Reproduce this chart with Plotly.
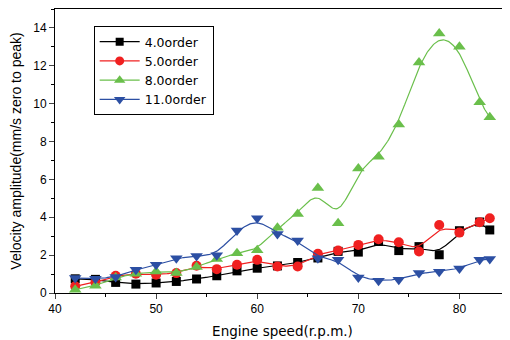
import numpy as np
import plotly.graph_objects as go

speed = [42, 44, 46, 48, 50, 52, 54, 56, 58, 60, 62, 64, 66, 68, 70, 72, 74, 76, 78, 80, 82, 83]
ord4 = [0.75, 0.72, 0.56, 0.47, 0.53, 0.61, 0.74, 0.91, 1.17, 1.31, 1.43, 1.61, 1.85, 2.2, 2.16, 2.72, 2.24, 2.45, 2.02, 3.29, 3.75, 3.33]
ord5 = [0.35, 0.56, 0.91, 1.02, 0.96, 1.05, 1.44, 1.26, 1.49, 1.75, 1.4, 1.4, 2.07, 2.24, 2.54, 2.84, 2.68, 2.19, 3.59, 3.19, 3.74, 3.95]
ord8 = [0.17, 0.38, 0.82, 1.02, 1.14, 1.05, 1.37, 1.79, 2.1, 2.26, 3.45, 4.17, 5.55, 3.68, 6.58, 7.19, 8.9, 12.18, 13.7, 13.0, 10.07, 9.28]
ord11 = [0.79, 0.75, 0.84, 1.23, 1.49, 1.84, 1.96, 2.0, 3.3, 3.95, 3.12, 2.77, 1.84, 1.76, 0.82, 0.65, 0.7, 1.06, 1.12, 1.29, 1.75, 1.79]

series_names = ["4.0order", "5.0order", "8.0order", "11.0order"]
series_vals = [ord4, ord5, ord8, ord11]
colors = ["#000000", "#f02020", "#6abf4b", "#2c4fa3"]
symbols = ["square", "circle", "triangle-up", "triangle-down"]
sizes = [9, 10, 11, 11]


def bspline(xs, ys, steps=20):
    px = np.concatenate([[xs[0]] * 2, xs, [xs[-1]] * 2]).astype(float)
    py = np.concatenate([[ys[0]] * 2, ys, [ys[-1]] * 2]).astype(float)
    t = np.linspace(0, 1, steps, endpoint=False)
    b0 = (1 - t) ** 3 / 6
    b1 = (3 * t ** 3 - 6 * t ** 2 + 4) / 6
    b2 = (-3 * t ** 3 + 3 * t ** 2 + 3 * t + 1) / 6
    b3 = t ** 3 / 6
    ox, oy = [], []
    for i in range(len(px) - 3):
        ox.extend(b0 * px[i] + b1 * px[i + 1] + b2 * px[i + 2] + b3 * px[i + 3])
        oy.extend(b0 * py[i] + b1 * py[i + 1] + b2 * py[i + 2] + b3 * py[i + 3])
    ox.append(px[-1])
    oy.append(py[-1])
    return ox, oy


fig = go.Figure()
for name, vals, c, s, sz in zip(series_names, series_vals, colors, symbols, sizes):
    cx, cy = bspline(speed, vals)
    fig.add_trace(go.Scatter(x=cx, y=cy, mode="lines", line=dict(color=c, width=1.2),
                             showlegend=False, hoverinfo="skip"))
    fig.add_trace(go.Scatter(x=speed, y=vals, mode="markers",
                             marker=dict(symbol=s, size=sz, color=c), showlegend=False))
    fig.add_trace(go.Scatter(x=[None], y=[None], mode="lines+markers", name=name,
                             line=dict(color=c, width=1.2),
                             marker=dict(symbol=s, size=sz - 1, color=c)))

font_family = "Liberation Sans, Arial, sans-serif"
fig.update_layout(
    width=502, height=332,
    margin=dict(l=47, r=0, t=1, b=47, autoexpand=False),
    paper_bgcolor="white", plot_bgcolor="white",
    font=dict(family=font_family, color="#000000", size=12),
    legend=dict(x=0.085, y=0.94, xanchor="left", yanchor="top",
                bordercolor="#000000", borderwidth=1, bgcolor="white",
                font=dict(size=12.5, family="DejaVu Sans, sans-serif"),
                itemwidth=40, tracegroupgap=0),
    xaxis=dict(range=[40, 85], dtick=10, tick0=40, ticks="outside", ticklen=5,
               showgrid=False, zeroline=False, showline=True, linecolor="#000000",
               linewidth=1, mirror=True,
               minor=dict(dtick=5, ticks="outside", ticklen=3, tickcolor="#000000"),
               title=dict(text="Engine speed(r.p.m.)",
                          font=dict(size=13.5, family="DejaVu Sans, sans-serif"), standoff=11),
               tickfont=dict(size=12)),
    yaxis=dict(range=[0, 15], dtick=2, tick0=0, ticks="outside", ticklen=5,
               showgrid=False, zeroline=False, showline=True, linecolor="#000000",
               linewidth=1, mirror=True,
               minor=dict(dtick=1, ticks="outside", ticklen=3, tickcolor="#000000"),
               title=dict(text="Velocity amplitude(mm/s zero to peak)", font=dict(size=14), standoff=11),
               tickfont=dict(size=12)),
)
fig.write_html("out.html")
